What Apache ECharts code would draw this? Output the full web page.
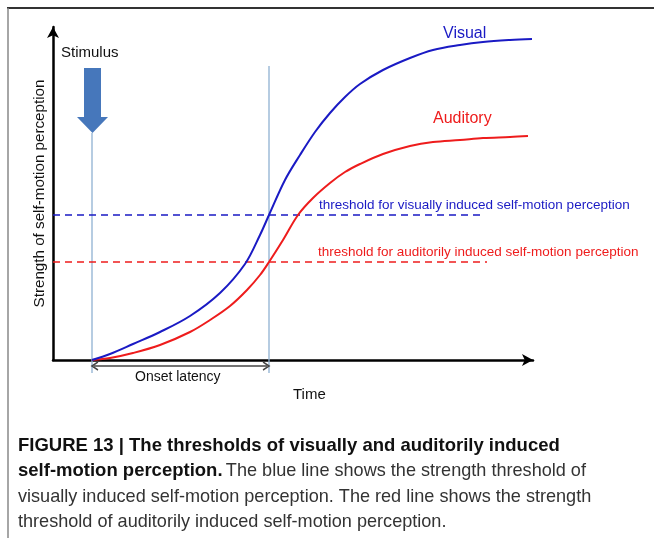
<!DOCTYPE html>
<html>
<head>
<meta charset="utf-8">
<script src="https://cdn.jsdelivr.net/npm/echarts@6/dist/echarts.min.js"></script>
<style>
  html, body { margin: 0; padding: 0; background: #fff; }
  #chart { width: 654px; height: 538px; }
</style>
</head>
<body>
<div id="chart"></div>
<script>
// time axis (arbitrary units) and perception strength
const visualTime = [39, 57, 80, 107, 137, 167, 192, 207, 216, 232, 247, 262, 277, 292, 307, 330, 357, 380, 407, 430, 457, 479]
const visualStrength = [0, 6, 16, 28, 44, 67, 96, 125, 145, 180, 205, 228, 247, 263, 276, 290, 302, 310, 315, 318, 320, 321]
const auditoryTime = [39, 57, 80, 107, 137, 157, 177, 194, 207, 216, 230, 245, 260, 277, 292, 307, 330, 357, 380, 407, 430, 457, 475]
const auditoryStrength = [0, 2, 7, 15, 28, 40, 54, 70, 85, 98, 120, 145, 162, 177, 188, 196, 206, 214, 218, 220, 222, 223, 224]

const visualThreshold = 145
const auditoryThreshold = 98
const thresholdEnd = [432, 434]

const stimulusTime = 39
const latencyTime = 216
const stimulusLineTop = 227
const latencyLineTop = 294
const markerBottom = -13
const onsetArrowLevel = -6

const axisMax = { x: 480, y: 333 }

const blue = '#1a1ac4'
const red = '#ee1c1c'
const guide = '#8fb1d2'

function pairs(xs, ys) {
  return xs.map((x, i) => [x, ys[i]])
}

const chart = echarts.init(document.getElementById('chart'))

const option = {
  animation: false,
  backgroundColor: '#fff',
  grid: { left: 53, right: 121, top: 27, bottom: 178 },
  xAxis: {
    type: 'value',
    min: 0,
    max: axisMax.x,
    axisLine: {
      show: true,
      onZero: false,
      symbol: ['none', 'arrow'],
      symbolSize: [9, 11],
      lineStyle: { color: '#000', width: 2.5 }
    },
    axisTick: { show: false },
    axisLabel: { show: false },
    splitLine: { show: false }
  },
  yAxis: {
    type: 'value',
    min: 0,
    max: axisMax.y,
    name: 'Strength of self-motion perception',
    nameLocation: 'middle',
    nameRotate: 90,
    nameGap: 6,
    nameTextStyle: { fontFamily: 'Liberation Sans', fontSize: 15.2, color: '#111' },
    axisLine: {
      show: true,
      onZero: false,
      symbol: ['none', 'arrow'],
      symbolSize: [9, 11],
      lineStyle: { color: '#000', width: 2.5 }
    },
    axisTick: { show: false },
    axisLabel: { show: false },
    splitLine: { show: false }
  },
  series: [
    {
      name: 'stimulus line',
      type: 'line',
      clip: false,
      symbol: 'none',
      lineStyle: { color: guide, width: 1.3 },
      data: [[stimulusTime, markerBottom], [stimulusTime, stimulusLineTop]]
    },
    {
      name: 'latency line',
      type: 'line',
      clip: false,
      symbol: 'none',
      lineStyle: { color: guide, width: 1.3 },
      data: [[latencyTime, markerBottom], [latencyTime, latencyLineTop]]
    },
    {
      name: 'onset latency',
      type: 'line',
      clip: false,
      symbol: 'path://M10,0 L0,5 L10,10',
      symbolSize: [6, 8],
      showSymbol: true,
      itemStyle: { color: 'none', borderColor: '#444', borderWidth: 1.5 },
      lineStyle: { color: '#444', width: 1.5 },
      data: [
        { value: [stimulusTime + 2, onsetArrowLevel], symbolOffset: [1, 0] },
        { value: [latencyTime - 2, onsetArrowLevel], symbolRotate: 180, symbolOffset: [-1, 0] }
      ]
    },
    {
      name: 'visual threshold',
      type: 'line',
      symbol: 'none',
      lineStyle: { color: blue, width: 1.4, type: [7, 5] },
      data: [[0, visualThreshold], [thresholdEnd[0], visualThreshold]]
    },
    {
      name: 'auditory threshold',
      type: 'line',
      symbol: 'none',
      lineStyle: { color: red, width: 1.4, type: [7, 5] },
      data: [[0, auditoryThreshold], [thresholdEnd[1], auditoryThreshold]]
    },
    {
      name: 'Auditory',
      type: 'line',
      smooth: 0.35,
      symbol: 'none',
      lineStyle: { color: red, width: 2 },
      data: pairs(auditoryTime, auditoryStrength)
    },
    {
      name: 'Visual',
      type: 'line',
      smooth: 0.35,
      symbol: 'none',
      lineStyle: { color: blue, width: 2 },
      data: pairs(visualTime, visualStrength)
    },
    {
      name: 'Stimulus',
      type: 'scatter',
      clip: false,
      symbol: 'path://M7,0 L24,0 L24,49 L31,49 L15.5,65 L0,49 L7,49 Z',
      symbolSize: [31, 65],
      itemStyle: { color: '#4677bb', opacity: 1 },
      data: [[stimulusTime + 0.5, 259.5]]
    }
  ],
  graphic: [
    // figure frame
    { type: 'line', shape: { x1: 7, y1: 8, x2: 654, y2: 8 }, style: { stroke: '#333', lineWidth: 2 } },
    { type: 'line', shape: { x1: 8, y1: 8, x2: 8, y2: 538 }, style: { stroke: '#888', lineWidth: 1.5 } },
    { type: 'text', left: 61, top: 45, style: { text: 'Stimulus', font: '15px "Liberation Sans"', fill: '#111' } },
    { type: 'text', left: 443, top: 26, style: { text: 'Visual', font: '16px "Liberation Sans"', fill: blue } },
    { type: 'text', left: 433, top: 111, style: { text: 'Auditory', font: '16px "Liberation Sans"', fill: red } },
    { type: 'text', left: 319, top: 198, style: { text: 'threshold for visually induced self-motion perception', font: '13.5px "Liberation Sans"', fill: blue } },
    { type: 'text', left: 318, top: 245, style: { text: 'threshold for auditorily induced self-motion perception', font: '13.5px "Liberation Sans"', fill: red } },
    { type: 'text', left: 135, top: 370, style: { text: 'Onset latency', font: '14px "Liberation Sans"', fill: '#111' } },
    { type: 'text', left: 293, top: 387, style: { text: 'Time', font: '15px "Liberation Sans"', fill: '#111' } },
    // caption
    {
      type: 'text', left: 18, top: 433,
      style: {
        text: '{b|FIGURE 13 | The thresholds of visually and auditorily induced}\n' +
              '{b|self-motion perception.} {r|The blue line shows the strength threshold of}\n' +
              '{r|visually induced self-motion perception. The red line shows the strength}\n' +
              '{r|threshold of auditorily induced self-motion perception.}',
        lineHeight: 25.5,
        rich: {
          b: { font: 'bold 18.5px "Liberation Sans"', fill: '#111', lineHeight: 25.5 },
          r: { font: '18.1px "Liberation Sans"', fill: '#333', lineHeight: 25.5 }
        }
      }
    }
  ]
}

chart.setOption(option)
</script>
</body>
</html>
